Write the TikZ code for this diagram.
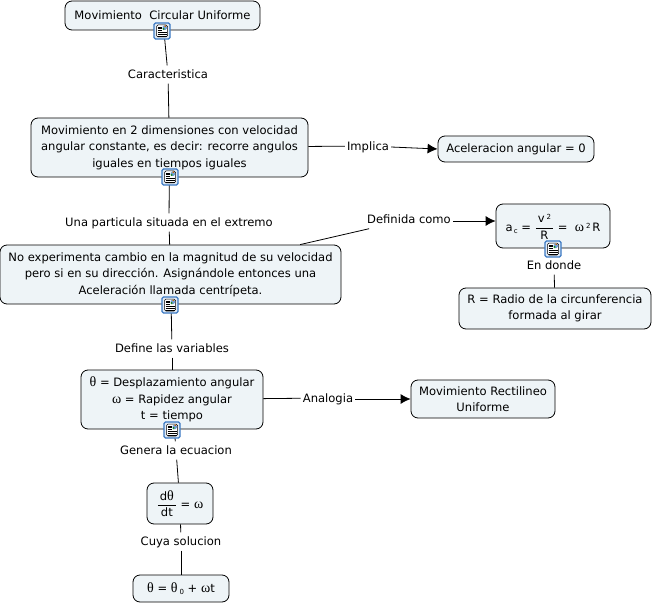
\documentclass[tikz,border=0pt]{standalone}
\usepackage{fontspec}
\setmainfont{DejaVu Sans}
\newfontfamily\greekfont{Liberation Serif}
\usetikzlibrary{arrows.meta}
\definecolor{boxfill}{HTML}{EEF4F7}
\definecolor{iconblue}{HTML}{3A78C2}
\newcommand{\gr}[1]{{\greekfont\fontsize{14}{16.5}\selectfont #1}}
\newcommand{\tinyidx}[1]{{\fontsize{7}{8}\selectfont #1}}
\newcommand{\fracbox}[2]{$\displaystyle\frac{\hbox{\rule{0pt}{10.5pt}\,#1\,}}{\hbox{\rule{0pt}{10pt}\,#2\,}}$}
\begin{document}
\begin{tikzpicture}[x=1pt,y=-1pt,
  every node/.style={font=\fontsize{11.55}{16.5}\selectfont,align=center},
  concept/.style={draw=black,fill=boxfill,rounded corners=7pt,line width=0.8pt,inner sep=0pt},
  linklabel/.style={inner xsep=2pt,inner ysep=0pt,minimum height=18pt,text height=8.5pt,text depth=0pt},
  link/.style={line width=0.8pt},
  docicon/.style={draw=iconblue,fill=iconblue!15,line width=1.3pt,rounded corners=1.5pt,minimum size=16pt,inner sep=0pt,
    path picture={
      \fill[white] (path picture bounding box.center) ++(-5.5,-6) rectangle ++(11,12);
      \draw[black,line width=0.5pt] (path picture bounding box.center) ++(-5.5,-6) rectangle ++(11,12);
      \fill[iconblue!70] (path picture bounding box.center) ++(0.5,-5.5) rectangle ++(4.5,4.5);
      \fill[green!50!black] (path picture bounding box.center) ++(0.5,-3) rectangle ++(2.2,2);
      \fill[orange!80!black] (path picture bounding box.center) ++(2.7,-5.5) rectangle ++(1.4,1.4);
      \foreach \yy in {-4.2,-2.4,-0.6}{\draw[black,line width=0.5pt] (path picture bounding box.center) ++(-4.5,\yy) -- ++(4.5,0);}
      \foreach \yy in {1.2,3,4.8}{\draw[black,line width=0.5pt] (path picture bounding box.center) ++(-4.5,\yy) -- ++(9,0);}
    }}]
  \useasboundingbox (0,0) rectangle (653,604);
  % concepts
  \node[concept,minimum width=195pt,minimum height=29pt] (mcu) at (162.5,15.5) {Movimiento\ \ Circular Uniforme};
  \node[concept,minimum width=277pt,minimum height=59pt] (dimensiones) at (169.5,147.5) {Movimiento en 2 dimensiones con velocidad\\angular constante, es decir: recorre angulos\\iguales en tiempos iguales};
  \node[concept,minimum width=156pt,minimum height=26pt] (aceleracion) at (516,149) {Aceleracion angular = 0};
  \node[concept,minimum width=341pt,minimum height=59pt] (cambio) at (170.5,274.5) {No experimenta cambio en la magnitud de su velocidad\\pero si en su dirección. Asignándole entonces una\\Aceleración llamada centrípeta.};
  \node[concept,minimum width=114pt,minimum height=44pt] (formula) at (553,226) {\raisebox{2.5pt}{a\raisebox{-2pt}{\tinyidx{\,c}}\ =\ \fracbox{v\,\raisebox{3pt}{\tinyidx{2}}}{R}\ =\ \ \gr{ω}\,\raisebox{3pt}{\tinyidx{2}}\,R}};
  \node[concept,minimum width=192pt,minimum height=41pt] (radio) at (555,308.5) {R = Radio de la circunferencia\\formada al girar};
  \node[concept,minimum width=182pt,minimum height=59pt] (variables) at (172,399.5) {\gr{θ} = Desplazamiento angular\\\gr{ω} = Rapidez angular\\t = tiempo};
  \node[concept,minimum width=144pt,minimum height=38pt] (rectilineo) at (483,399) {Movimiento Rectilineo\\Uniforme};
  \node[concept,minimum width=66pt,minimum height=41pt] (derivada) at (180,503.5) {\fracbox{d\gr{θ}}{dt}\ = \gr{ω}};
  \node[concept,minimum width=96pt,minimum height=27pt] (solucion) at (181,588.5) {\gr{θ} =\ \gr{θ}\,\raisebox{-2pt}{\tinyidx{0}}\ + \gr{ω}t};
  % link labels
  \node[linklabel] (caracteristica) at (168,74.5) {Caracteristica};
  \node[linklabel] (implica) at (368,146) {Implica};
  \node[linklabel] (particula) at (169,222.5) {Una particula situada en el extremo};
  \node[linklabel] (definida) at (409,219.5) {Definida como};
  \node[linklabel] (endonde) at (554,265.5) {En donde};
  \node[linklabel] (definelas) at (172,348.5) {Define las variables};
  \node[linklabel] (analogia) at (328,398) {Analogia};
  \node[linklabel] (genera) at (176,450.5) {Genera la ecuacion};
  \node[linklabel] (cuya) at (181,541.5) {Cuya solucion};
  % connectors
  \foreach \a/\b in {mcu/caracteristica,caracteristica/dimensiones,dimensiones/implica,dimensiones/particula,particula/cambio,cambio/definida,formula/endonde,endonde/radio,cambio/definelas,definelas/variables,variables/analogia,variables/genera,genera/derivada,derivada/cuya,cuya/solucion}{\draw[link] (\a) -- (\b); }
  \draw[link,-{Latex[length=10pt,width=10pt]}] ([yshift=-1pt]implica.east) -- (aceleracion.west);
  \draw[link,-{Latex[length=10pt,width=10pt]}] ([yshift=-1.5pt]definida.east) -- ([yshift=-1.5pt]definida.east -| formula.west);
  \draw[link,-{Latex[length=10pt,width=10pt]}] ([yshift=-1pt]analogia.east) -- (rectilineo.west);
  % icons
  \node[docicon] (iconmcu) at (162,31) {};
  \node[docicon] (icondim) at (170,177) {};
  \node[docicon] (iconcambio) at (170,305) {};
  \node[docicon] (iconformula) at (553,249) {};
  \node[docicon] (iconvar) at (172,430) {};
\end{tikzpicture}
\end{document}
